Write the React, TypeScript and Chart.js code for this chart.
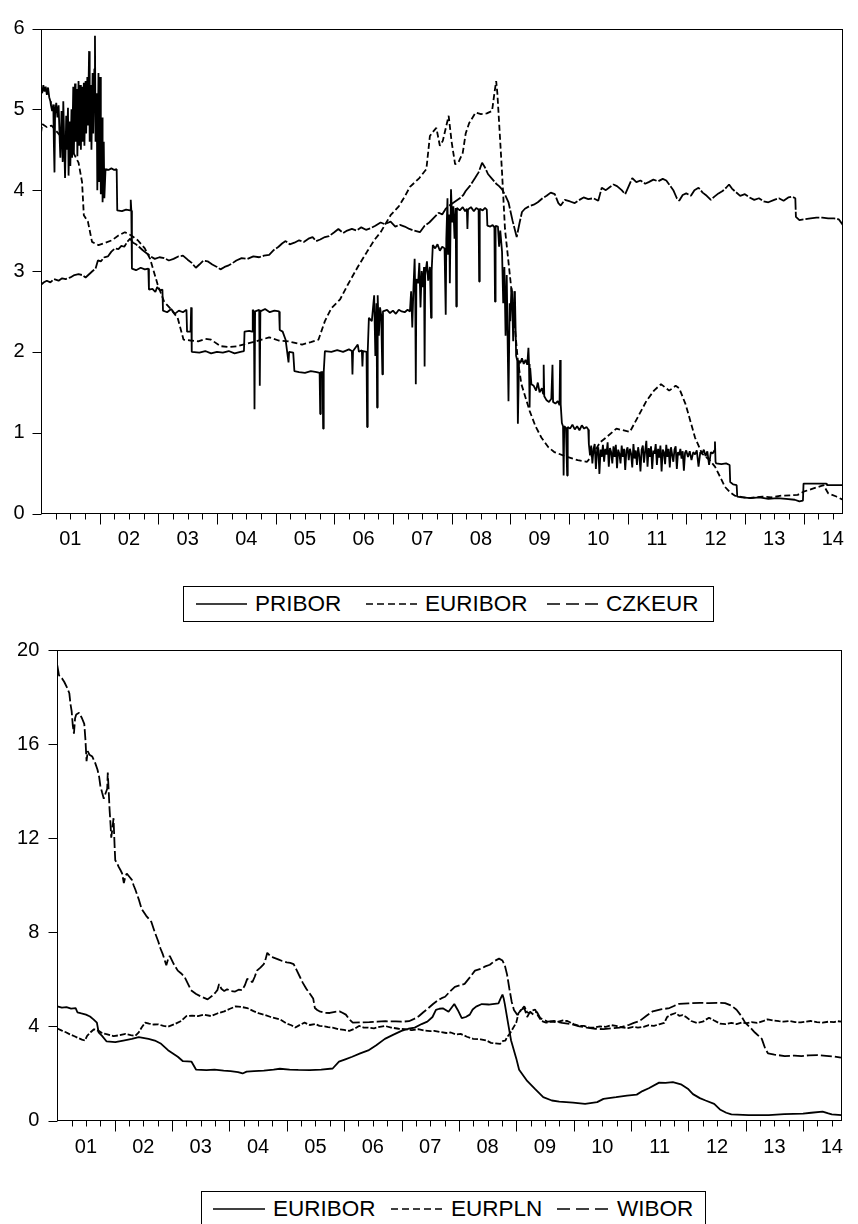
import React, { useEffect, useRef } from "react";
import { Chart, registerables } from "chart.js";

Chart.register(...registerables);

type Pt = [number, number];

// ---------- axis definitions ----------
const YEAR_LABELS = ["01", "02", "03", "04", "05", "06", "07", "08", "09", "10", "11", "12", "13", "14"];
const FIRST_YEAR = 2001;
const X_MIN = 2001;
const X_MAX = 2014.67;
const QUARTERS_PER_YEAR = 4;
const TOP_Y_MAX = 6;
const TOP_Y_STEP = 1;
const BOTTOM_Y_MAX = 20;
const BOTTOM_Y_STEP = 4;

// ---------- top panel: PRIBOR / EURIBOR / CZKEUR ----------
const PRIBOR: Pt[] = [
  [2001.00,5.26],[2001.02,5.20],[2001.04,5.30],[2001.06,5.22],[2001.08,5.28],[2001.10,5.18],[2001.12,5.27],[2001.14,5.15],
  [2001.16,5.10],[2001.17,5.05],[2001.19,4.98],[2001.21,5.06],[2001.22,4.55],[2001.23,4.22],[2001.24,4.95],[2001.26,5.08],
  [2001.28,4.90],[2001.30,5.05],[2001.32,4.60],[2001.33,4.40],[2001.35,4.98],[2001.37,4.35],[2001.38,5.10],[2001.40,4.45],
  [2001.41,4.15],[2001.43,4.92],[2001.44,4.50],[2001.46,5.02],[2001.47,4.18],[2001.49,4.85],[2001.50,4.30],[2001.52,5.00],
  [2001.53,4.40],[2001.55,5.28],[2001.56,4.45],[2001.58,5.32],[2001.59,4.60],[2001.61,5.25],[2001.62,4.42],[2001.64,5.35],
  [2001.65,4.55],[2001.67,5.30],[2001.68,4.50],[2001.70,5.28],[2001.71,4.60],[2001.73,5.33],[2001.74,4.55],[2001.76,5.35],
  [2001.77,4.70],[2001.79,5.40],[2001.80,4.80],[2001.82,5.72],[2001.83,4.60],[2001.85,5.30],[2001.86,4.50],[2001.88,5.45],
  [2001.89,4.70],[2001.91,5.50],[2001.92,5.91],[2001.93,4.60],[2001.95,5.20],[2001.96,4.00],[2001.98,5.45],[2001.99,4.10],
  [2002.01,5.40],[2002.02,3.95],[2002.04,4.90],[2002.05,3.85],[2002.07,4.60],[2002.08,3.90],[2002.10,4.26],
  [2002.15,4.25],[2002.20,4.27],[2002.25,4.25],[2002.29,4.26],[2002.30,3.75],[2002.38,3.74],[2002.45,3.76],[2002.52,3.75],
  [2002.53,3.88],[2002.54,3.75],[2002.55,3.03],[2002.62,3.01],[2002.70,3.04],[2002.77,3.02],[2002.83,3.03],[2002.84,2.77],
  [2002.90,2.78],[2002.95,2.74],[2002.98,2.80],[2003.03,2.76],[2003.07,2.77],[2003.08,2.51],[2003.15,2.49],[2003.22,2.53],
  [2003.28,2.47],[2003.35,2.51],[2003.42,2.49],[2003.48,2.52],[2003.49,2.25],[2003.55,2.25],[2003.56,2.55],[2003.57,2.00],
  [2003.70,1.99],[2003.80,2.01],[2003.90,1.98],[2004.00,2.00],[2004.10,1.99],[2004.20,2.01],[2004.30,1.98],[2004.40,2.00],
  [2004.46,2.01],[2004.47,2.25],[2004.55,2.26],[2004.60,2.25],[2004.61,2.52],[2004.63,2.50],[2004.64,1.29],[2004.65,2.50],
  [2004.72,2.52],[2004.73,1.58],[2004.74,2.50],[2004.82,2.53],[2004.90,2.49],[2004.98,2.51],[2005.06,2.50],[2005.07,2.27],
  [2005.12,2.25],[2005.17,2.15],[2005.22,1.87],[2005.23,2.00],[2005.30,1.99],[2005.32,1.76],[2005.40,1.75],[2005.50,1.74],
  [2005.60,1.76],[2005.70,1.75],[2005.75,1.74],[2005.76,1.23],[2005.77,1.75],[2005.80,1.75],[2005.81,1.05],[2005.82,1.75],
  [2005.84,2.01],[2005.95,2.00],[2006.05,2.02],[2006.15,2.00],[2006.25,2.03],[2006.30,2.01],[2006.31,1.72],[2006.32,2.01],
  [2006.40,2.09],[2006.42,2.00],[2006.47,2.02],[2006.48,1.82],[2006.49,2.01],[2006.55,2.00],[2006.56,1.07],[2006.57,2.00],
  [2006.59,2.42],[2006.64,2.38],[2006.68,2.70],[2006.70,1.95],[2006.72,2.60],[2006.73,1.31],[2006.74,2.70],[2006.76,2.20],
  [2006.78,2.55],[2006.80,2.45],[2006.82,1.72],[2006.83,2.50],[2006.90,2.52],[2006.95,2.48],[2007.00,2.51],[2007.05,2.47],
  [2007.10,2.52],[2007.15,2.50],[2007.20,2.49],[2007.25,2.52],[2007.29,2.50],[2007.31,2.75],[2007.33,2.30],[2007.35,2.80],
  [2007.37,3.15],[2007.38,2.70],[2007.39,1.60],[2007.40,2.90],[2007.43,2.85],[2007.45,3.10],[2007.47,2.55],[2007.49,3.00],
  [2007.51,2.80],[2007.53,3.05],[2007.54,1.82],[2007.55,2.95],[2007.58,3.12],[2007.60,2.88],[2007.63,3.05],[2007.65,2.42],
  [2007.66,3.00],[2007.68,3.32],[2007.72,3.28],[2007.76,3.33],[2007.80,3.25],[2007.84,3.30],[2007.88,3.28],[2007.90,2.46],
  [2007.91,3.40],[2007.93,3.90],[2007.94,3.20],[2007.96,3.70],[2007.97,2.85],[2007.99,4.01],[2008.01,3.60],[2008.03,3.80],
  [2008.05,3.40],[2008.07,3.78],[2008.08,2.56],[2008.09,3.78],[2008.14,3.75],[2008.19,3.79],[2008.23,3.74],[2008.26,3.77],
  [2008.27,3.52],[2008.28,3.76],[2008.33,3.79],[2008.38,3.74],[2008.42,3.78],[2008.46,3.76],[2008.47,2.87],[2008.48,3.77],
  [2008.53,3.75],[2008.57,3.78],[2008.60,3.76],[2008.61,3.56],[2008.66,3.55],[2008.70,3.57],[2008.73,3.54],[2008.74,2.62],
  [2008.75,3.56],[2008.79,3.55],[2008.81,3.30],[2008.83,3.50],[2008.86,3.24],[2008.88,2.60],[2008.90,3.05],[2008.92,2.20],
  [2008.94,2.95],[2008.97,1.39],[2008.99,2.60],[2009.00,2.38],[2009.02,2.79],[2009.03,2.75],[2009.05,2.13],[2009.07,2.75],
  [2009.08,2.70],[2009.10,1.95],[2009.12,1.89],[2009.13,1.11],[2009.15,1.89],[2009.17,1.86],[2009.20,1.92],[2009.23,1.85],
  [2009.26,1.90],[2009.29,1.84],[2009.31,2.05],[2009.32,1.85],[2009.33,1.31],[2009.34,1.80],[2009.36,1.60],[2009.40,1.58],
  [2009.44,1.52],[2009.47,1.62],[2009.50,1.50],[2009.54,1.55],[2009.56,1.48],[2009.57,1.84],[2009.58,1.45],[2009.62,1.40],
  [2009.66,1.38],[2009.70,1.42],[2009.72,1.84],[2009.73,1.38],[2009.77,1.36],[2009.81,1.39],[2009.84,1.34],[2009.85,1.90],
  [2009.86,1.35],[2009.88,1.12],[2009.90,1.08],[2009.91,0.47],[2009.92,1.08],[2009.95,1.06],[2009.97,0.47],[2009.98,1.07],
  [2010.02,1.05],[2010.06,1.10],[2010.10,1.04],[2010.14,1.08],[2010.18,1.03],[2010.22,1.09],[2010.26,1.05],[2010.30,1.07],
  [2010.33,1.04],[2010.34,0.86],[2010.36,0.72],[2010.38,0.84],[2010.40,0.62],[2010.42,0.80],[2010.44,0.86],[2010.46,0.55],
  [2010.48,0.78],[2010.50,0.82],[2010.52,0.49],[2010.54,0.79],[2010.56,0.70],[2010.58,0.85],[2010.60,0.64],[2010.62,0.80],
  [2010.64,0.73],[2010.66,0.88],[2010.68,0.58],[2010.70,0.81],[2010.72,0.76],[2010.74,0.62],[2010.76,0.83],[2010.78,0.70],
  [2010.80,0.85],[2010.82,0.56],[2010.84,0.79],[2010.86,0.74],[2010.88,0.62],[2010.90,0.84],[2010.92,0.70],[2010.94,0.80],
  [2010.96,0.54],[2010.98,0.78],[2011.00,0.82],[2011.02,0.66],[2011.04,0.80],[2011.06,0.74],[2011.08,0.57],[2011.10,0.86],
  [2011.12,0.68],[2011.14,0.78],[2011.16,0.60],[2011.18,0.82],[2011.20,0.72],[2011.22,0.52],[2011.24,0.79],[2011.26,0.84],
  [2011.28,0.63],[2011.30,0.77],[2011.32,0.90],[2011.34,0.58],[2011.36,0.81],[2011.38,0.70],[2011.40,0.83],[2011.42,0.55],
  [2011.44,0.78],[2011.46,0.74],[2011.48,0.86],[2011.50,0.60],[2011.52,0.80],[2011.54,0.69],[2011.56,0.84],[2011.58,0.52],
  [2011.60,0.79],[2011.62,0.76],[2011.64,0.61],[2011.66,0.85],[2011.68,0.70],[2011.70,0.80],[2011.72,0.57],[2011.74,0.82],
  [2011.76,0.73],[2011.78,0.64],[2011.80,0.79],[2011.82,0.83],[2011.84,0.55],[2011.86,0.76],[2011.88,0.72],[2011.90,0.80],
  [2011.92,0.68],[2011.94,0.77],[2011.96,0.53],[2011.98,0.75],[2012.00,0.78],[2012.03,0.70],[2012.06,0.77],[2012.09,0.66],
  [2012.12,0.76],[2012.15,0.73],[2012.18,0.78],[2012.21,0.58],[2012.24,0.76],[2012.27,0.74],[2012.30,0.79],[2012.33,0.71],
  [2012.36,0.77],[2012.39,0.60],[2012.42,0.76],[2012.45,0.74],[2012.48,0.78],[2012.49,0.89],[2012.50,0.64],[2012.51,0.62],
  [2012.60,0.61],[2012.68,0.62],[2012.74,0.60],[2012.75,0.39],[2012.80,0.36],[2012.86,0.35],[2012.87,0.21],[2012.95,0.20],
  [2013.10,0.19],[2013.25,0.20],[2013.40,0.18],[2013.55,0.19],[2013.70,0.18],[2013.85,0.17],[2013.93,0.15],[2013.99,0.16],
  [2014.00,0.37],[2014.20,0.37],[2014.39,0.37],[2014.40,0.35],[2014.67,0.35],
];

const EURIBOR_TOP: Pt[] = [
  [2001.00,4.71],[2001.02,4.82],[2001.10,4.78],[2001.18,4.80],[2001.25,4.74],[2001.32,4.68],[2001.40,4.60],[2001.48,4.55],
  [2001.56,4.45],[2001.64,4.34],[2001.70,4.10],[2001.73,3.69],[2001.80,3.61],[2001.87,3.36],[2001.98,3.32],[2002.10,3.35],
  [2002.21,3.38],[2002.32,3.44],[2002.43,3.48],[2002.54,3.44],[2002.65,3.38],[2002.77,3.28],[2002.86,3.15],[2002.99,2.83],
  [2003.10,2.62],[2003.20,2.54],[2003.33,2.42],[2003.43,2.15],[2003.55,2.14],[2003.68,2.13],[2003.80,2.16],[2003.90,2.15],
  [2004.06,2.07],[2004.20,2.06],[2004.35,2.07],[2004.50,2.10],[2004.67,2.13],[2004.89,2.18],[2005.05,2.14],[2005.22,2.13],
  [2005.45,2.09],[2005.60,2.12],[2005.73,2.15],[2005.84,2.38],[2005.95,2.54],[2006.10,2.65],[2006.23,2.83],[2006.40,3.05],
  [2006.56,3.24],[2006.68,3.38],[2006.79,3.48],[2006.96,3.69],[2007.10,3.80],[2007.20,3.92],[2007.29,4.04],[2007.45,4.15],
  [2007.57,4.26],[2007.63,4.67],[2007.68,4.72],[2007.74,4.77],[2007.80,4.55],[2007.85,4.61],[2007.95,4.92],[2008.00,4.60],
  [2008.06,4.32],[2008.12,4.35],[2008.19,4.46],[2008.24,4.70],[2008.30,4.83],[2008.41,4.96],[2008.50,4.94],[2008.60,4.95],
  [2008.69,4.98],[2008.73,5.20],[2008.76,5.35],[2008.78,5.20],[2008.80,4.96],[2008.86,4.22],[2008.91,3.52],[2009.03,2.70],
  [2009.13,1.89],[2009.19,1.60],[2009.33,1.27],[2009.43,1.08],[2009.53,0.94],[2009.65,0.82],[2009.75,0.76],[2009.97,0.70],
  [2010.15,0.66],[2010.31,0.64],[2010.42,0.74],[2010.53,0.88],[2010.65,0.95],[2010.81,1.05],[2010.92,1.03],[2011.04,1.01],
  [2011.18,1.20],[2011.32,1.39],[2011.45,1.52],[2011.57,1.60],[2011.71,1.52],[2011.82,1.58],[2011.88,1.55],[2011.99,1.35],
  [2012.08,1.12],[2012.15,0.94],[2012.27,0.74],[2012.40,0.66],[2012.49,0.58],[2012.58,0.45],[2012.66,0.33],[2012.75,0.26],
  [2012.83,0.22],[2013.06,0.19],[2013.30,0.21],[2013.45,0.20],[2013.62,0.22],[2013.90,0.23],[2014.00,0.27],[2014.17,0.31],
  [2014.34,0.35],[2014.42,0.25],[2014.56,0.21],[2014.67,0.17],
];

const CZKEUR: Pt[] = [
  [2001.00,2.83],[2001.05,2.86],[2001.10,2.88],[2001.16,2.86],[2001.22,2.90],[2001.30,2.88],[2001.36,2.91],[2001.42,2.90],
  [2001.50,2.92],[2001.57,2.95],[2001.64,2.96],[2001.70,2.95],[2001.76,2.92],[2001.82,2.96],[2001.88,3.00],[2001.93,3.03],
  [2001.97,3.13],[2002.02,3.12],[2002.08,3.17],[2002.14,3.18],[2002.20,3.24],[2002.26,3.28],[2002.32,3.27],[2002.37,3.31],
  [2002.42,3.30],[2002.47,3.36],[2002.52,3.40],[2002.57,3.35],[2002.62,3.33],[2002.67,3.30],[2002.73,3.26],[2002.80,3.22],
  [2002.87,3.18],[2002.94,3.15],[2003.02,3.17],[2003.10,3.16],[2003.18,3.13],[2003.26,3.15],[2003.34,3.18],[2003.42,3.19],
  [2003.50,3.14],[2003.57,3.10],[2003.64,3.04],[2003.70,3.08],[2003.77,3.13],[2003.84,3.12],[2003.92,3.08],[2004.00,3.05],
  [2004.06,3.02],[2004.13,3.05],[2004.20,3.07],[2004.27,3.10],[2004.33,3.13],[2004.42,3.16],[2004.52,3.15],[2004.62,3.18],
  [2004.72,3.17],[2004.80,3.19],[2004.89,3.20],[2004.97,3.26],[2005.05,3.30],[2005.11,3.34],[2005.17,3.37],[2005.24,3.33],
  [2005.32,3.35],[2005.40,3.38],[2005.48,3.36],[2005.56,3.40],[2005.63,3.42],[2005.69,3.37],[2005.76,3.39],[2005.84,3.42],
  [2005.91,3.43],[2006.00,3.48],[2006.07,3.52],[2006.15,3.47],[2006.22,3.50],[2006.30,3.52],[2006.38,3.50],[2006.46,3.54],
  [2006.54,3.51],[2006.62,3.53],[2006.70,3.56],[2006.79,3.60],[2006.86,3.58],[2006.96,3.61],[2007.04,3.55],[2007.12,3.57],
  [2007.20,3.55],[2007.28,3.52],[2007.36,3.50],[2007.46,3.48],[2007.54,3.56],[2007.62,3.60],[2007.70,3.66],[2007.78,3.72],
  [2007.84,3.70],[2007.90,3.77],[2007.98,3.82],[2008.06,3.86],[2008.14,3.90],[2008.20,3.94],[2008.24,3.99],[2008.32,4.06],
  [2008.40,4.15],[2008.46,4.22],[2008.52,4.34],[2008.57,4.28],[2008.62,4.20],[2008.69,4.14],[2008.76,4.08],[2008.81,4.05],
  [2008.86,4.01],[2008.92,3.93],[2008.97,3.85],[2009.04,3.62],[2009.11,3.42],[2009.16,3.60],[2009.20,3.73],[2009.25,3.77],
  [2009.32,3.80],[2009.40,3.82],[2009.47,3.85],[2009.55,3.90],[2009.62,3.93],[2009.69,3.97],[2009.76,3.95],[2009.82,3.84],
  [2009.86,3.81],[2009.93,3.88],[2010.02,3.86],[2010.10,3.84],[2010.18,3.88],[2010.25,3.91],[2010.33,3.89],[2010.42,3.90],
  [2010.50,3.87],[2010.56,4.03],[2010.63,4.00],[2010.70,4.04],[2010.76,4.07],[2010.82,4.05],[2010.90,4.00],[2010.96,3.95],
  [2011.02,4.05],[2011.08,4.15],[2011.15,4.10],[2011.22,4.12],[2011.30,4.08],[2011.36,4.10],[2011.44,4.13],[2011.52,4.11],
  [2011.60,4.14],[2011.66,4.12],[2011.72,4.06],[2011.78,4.00],[2011.84,3.90],[2011.88,3.87],[2011.94,3.94],[2012.00,3.96],
  [2012.08,3.93],[2012.14,4.00],[2012.21,4.03],[2012.28,3.97],[2012.35,3.93],[2012.42,3.88],[2012.48,3.92],[2012.55,3.96],
  [2012.62,3.99],[2012.68,4.03],[2012.73,4.07],[2012.78,4.02],[2012.84,3.98],[2012.92,3.93],[2013.00,3.95],[2013.08,3.91],
  [2013.16,3.88],[2013.24,3.90],[2013.32,3.86],[2013.40,3.85],[2013.50,3.88],[2013.58,3.90],[2013.66,3.87],[2013.74,3.91],
  [2013.80,3.92],[2013.86,3.90],[2013.87,3.67],[2013.93,3.63],[2014.02,3.64],[2014.12,3.65],[2014.22,3.66],[2014.32,3.66],
  [2014.42,3.65],[2014.52,3.65],[2014.60,3.64],[2014.67,3.57],
];

// ---------- bottom panel: EURIBOR / EURPLN / WIBOR ----------
const EURIBOR_BOTTOM: Pt[] = [
  [2001.00,4.85],[2001.08,4.80],[2001.16,4.82],[2001.24,4.76],[2001.32,4.78],[2001.35,4.60],[2001.42,4.55],[2001.50,4.50],
  [2001.57,4.42],[2001.63,4.30],[2001.69,4.16],[2001.72,3.75],[2001.78,3.60],[2001.86,3.36],[2002.01,3.33],[2002.15,3.40],
  [2002.30,3.47],[2002.42,3.54],[2002.59,3.47],[2002.70,3.40],[2002.81,3.26],[2002.93,2.99],[2003.10,2.71],[2003.19,2.52],
  [2003.34,2.50],[2003.42,2.16],[2003.60,2.14],[2003.74,2.16],[2003.90,2.12],[2004.02,2.10],[2004.15,2.06],[2004.23,2.00],
  [2004.30,2.08],[2004.43,2.10],[2004.60,2.12],[2004.77,2.16],[2004.88,2.20],[2005.05,2.16],[2005.20,2.15],[2005.40,2.14],
  [2005.60,2.16],[2005.80,2.21],[2005.91,2.50],[2006.02,2.60],[2006.14,2.71],[2006.28,2.85],[2006.42,2.98],[2006.56,3.20],
  [2006.71,3.47],[2006.86,3.65],[2007.00,3.81],[2007.12,3.90],[2007.23,3.95],[2007.35,4.10],[2007.45,4.20],[2007.54,4.40],
  [2007.60,4.70],[2007.66,4.75],[2007.72,4.77],[2007.82,4.62],[2007.92,4.95],[2007.98,4.70],[2008.05,4.35],[2008.12,4.40],
  [2008.19,4.50],[2008.24,4.72],[2008.30,4.84],[2008.40,4.95],[2008.52,4.93],[2008.62,4.96],[2008.69,4.98],[2008.73,5.20],
  [2008.76,5.35],[2008.78,5.20],[2008.80,4.96],[2008.86,4.10],[2008.91,3.40],[2009.00,2.64],[2009.05,2.16],[2009.19,1.68],
  [2009.33,1.33],[2009.47,0.99],[2009.62,0.85],[2009.75,0.80],[2009.99,0.76],[2010.20,0.71],[2010.41,0.78],[2010.52,0.92],
  [2010.74,0.99],[2010.93,1.06],[2011.10,1.10],[2011.20,1.25],[2011.31,1.37],[2011.49,1.61],[2011.60,1.60],[2011.73,1.63],
  [2011.87,1.54],[2011.99,1.35],[2012.08,1.12],[2012.20,0.95],[2012.30,0.85],[2012.45,0.71],[2012.55,0.47],[2012.66,0.33],
  [2012.75,0.26],[2013.05,0.23],[2013.40,0.23],[2013.67,0.27],[2014.00,0.29],[2014.14,0.33],[2014.34,0.38],[2014.44,0.30],
  [2014.50,0.26],[2014.67,0.23],
];

const EURPLN: Pt[] = [
  [2001.00,3.91],[2001.08,3.82],[2001.15,3.75],[2001.22,3.66],[2001.30,3.58],[2001.37,3.50],[2001.43,3.44],[2001.48,3.40],
  [2001.52,3.60],[2001.58,3.75],[2001.64,3.88],[2001.72,3.81],[2001.78,3.72],[2001.84,3.68],[2001.92,3.63],[2001.98,3.59],
  [2002.08,3.62],[2002.19,3.68],[2002.28,3.63],[2002.36,3.60],[2002.42,3.75],[2002.47,3.95],[2002.53,4.16],[2002.60,4.12],
  [2002.68,4.08],[2002.76,4.09],[2002.85,4.02],[2002.93,3.99],[2003.05,4.10],[2003.16,4.23],[2003.25,4.44],[2003.35,4.46],
  [2003.45,4.44],[2003.56,4.50],[2003.68,4.44],[2003.80,4.56],[2003.91,4.64],[2004.01,4.75],[2004.11,4.85],[2004.20,4.83],
  [2004.31,4.78],[2004.42,4.65],[2004.52,4.55],[2004.60,4.50],[2004.72,4.40],[2004.88,4.30],[2005.00,4.12],[2005.08,4.05],
  [2005.15,3.95],[2005.24,4.08],[2005.31,4.16],[2005.40,4.06],[2005.50,4.10],[2005.57,4.02],[2005.66,4.00],[2005.72,3.97],
  [2005.80,3.95],[2005.90,3.88],[2006.00,3.85],[2006.09,3.81],[2006.18,3.90],[2006.26,4.02],[2006.34,3.95],[2006.42,3.95],
  [2006.52,3.92],[2006.62,3.98],[2006.71,4.02],[2006.82,3.95],[2006.95,3.90],[2007.06,3.88],[2007.18,3.84],[2007.29,3.88],
  [2007.40,3.82],[2007.50,3.80],[2007.57,3.81],[2007.68,3.76],[2007.78,3.72],[2007.86,3.74],[2007.95,3.66],[2008.03,3.68],
  [2008.14,3.56],[2008.25,3.47],[2008.38,3.45],[2008.48,3.40],[2008.56,3.30],[2008.64,3.28],[2008.72,3.26],[2008.77,3.38],
  [2008.81,3.40],[2008.84,3.54],[2008.90,3.74],[2009.00,4.16],[2009.04,4.57],[2009.09,4.70],[2009.14,4.85],[2009.19,4.60],
  [2009.23,4.57],[2009.28,4.68],[2009.33,4.71],[2009.38,4.45],[2009.42,4.30],[2009.47,4.20],[2009.52,4.16],[2009.60,4.20],
  [2009.70,4.18],[2009.80,4.25],[2009.89,4.23],[2010.00,4.10],[2010.10,4.02],[2010.18,4.02],[2010.27,3.96],[2010.36,3.95],
  [2010.46,4.00],[2010.56,3.98],[2010.66,4.05],[2010.74,4.02],[2010.84,3.96],[2010.95,3.93],[2011.04,3.98],[2011.12,3.95],
  [2011.22,3.98],[2011.31,4.05],[2011.40,4.02],[2011.49,4.09],[2011.58,4.15],[2011.63,4.40],[2011.70,4.50],[2011.78,4.57],
  [2011.84,4.45],[2011.90,4.48],[2011.96,4.40],[2012.05,4.23],[2012.15,4.15],[2012.25,4.20],[2012.36,4.37],[2012.45,4.25],
  [2012.55,4.12],[2012.65,4.10],[2012.75,4.15],[2012.84,4.10],[2012.93,4.16],[2013.02,4.14],[2013.10,4.18],[2013.20,4.15],
  [2013.30,4.22],[2013.38,4.30],[2013.48,4.25],[2013.58,4.22],[2013.66,4.20],[2013.76,4.23],[2013.86,4.18],[2013.96,4.17],
  [2014.04,4.20],[2014.13,4.23],[2014.24,4.18],[2014.34,4.16],[2014.44,4.20],[2014.54,4.18],[2014.60,4.22],[2014.67,4.20],
];

const WIBOR: Pt[] = [
  [2001.00,19.34],[2001.03,18.92],[2001.08,18.80],[2001.12,18.65],[2001.17,18.40],[2001.21,18.16],[2001.23,17.70],
  [2001.25,17.40],[2001.27,16.80],[2001.29,16.44],[2001.31,17.10],[2001.33,17.26],[2001.38,17.33],[2001.43,17.10],
  [2001.47,16.86],[2001.49,16.20],[2001.51,15.27],[2001.53,15.70],[2001.56,15.55],[2001.61,15.47],[2001.66,15.20],
  [2001.70,14.92],[2001.73,14.60],[2001.75,14.23],[2001.78,13.95],[2001.81,13.68],[2001.84,13.90],[2001.87,14.10],
  [2001.88,14.79],[2001.90,13.80],[2001.91,13.27],[2001.93,12.50],[2001.94,12.02],[2001.96,12.40],[2001.98,12.85],
  [2002.00,11.60],[2002.01,11.06],[2002.04,10.95],[2002.07,10.78],[2002.10,10.65],[2002.13,10.50],[2002.16,10.09],
  [2002.18,10.30],[2002.21,10.50],[2002.26,10.35],[2002.30,10.23],[2002.33,10.00],[2002.36,9.82],[2002.42,9.40],
  [2002.47,8.99],[2002.55,8.70],[2002.64,8.44],[2002.70,8.00],[2002.76,7.61],[2002.80,7.30],[2002.84,7.06],[2002.90,6.60],
  [2002.93,6.85],[2002.96,7.00],[2003.03,6.65],[2003.10,6.37],[2003.16,6.25],[2003.22,6.10],[2003.28,5.80],[2003.33,5.54],
  [2003.42,5.38],[2003.51,5.26],[2003.57,5.20],[2003.62,5.15],[2003.70,5.30],[2003.76,5.45],[2003.79,5.54],[2003.82,5.80],
  [2003.86,5.60],[2003.91,5.50],[2003.96,5.58],[2004.02,5.50],[2004.10,5.48],[2004.16,5.56],[2004.22,5.54],[2004.27,5.75],
  [2004.31,6.02],[2004.36,5.95],[2004.40,5.88],[2004.44,6.10],[2004.48,6.37],[2004.54,6.50],[2004.60,6.65],[2004.63,6.85],
  [2004.66,7.13],[2004.71,7.00],[2004.77,6.92],[2004.85,6.85],[2004.92,6.78],[2005.00,6.72],[2005.06,6.70],[2005.12,6.65],
  [2005.17,6.40],[2005.23,6.10],[2005.28,5.85],[2005.34,5.60],[2005.40,5.40],[2005.46,5.19],[2005.49,4.78],[2005.53,4.70],
  [2005.57,4.64],[2005.66,4.58],[2005.75,4.57],[2005.84,4.62],[2005.92,4.64],[2005.97,4.58],[2006.03,4.50],[2006.09,4.30],
  [2006.15,4.16],[2006.30,4.17],[2006.44,4.18],[2006.58,4.20],[2006.72,4.22],[2006.90,4.21],[2007.00,4.20],[2007.13,4.22],
  [2007.22,4.32],[2007.30,4.43],[2007.38,4.60],[2007.47,4.78],[2007.55,4.95],[2007.64,5.12],[2007.70,5.20],[2007.76,5.26],
  [2007.85,5.50],[2007.93,5.68],[2008.02,5.75],[2008.10,5.81],[2008.18,6.05],[2008.28,6.37],[2008.38,6.45],[2008.46,6.55],
  [2008.54,6.62],[2008.62,6.78],[2008.70,6.88],[2008.76,6.80],[2008.80,6.60],[2008.84,6.20],[2008.88,5.60],[2008.92,5.05],
  [2008.96,4.70],[2009.02,4.48],[2009.08,4.70],[2009.14,4.78],[2009.19,4.40],[2009.24,4.62],[2009.30,4.50],[2009.36,4.62],
  [2009.42,4.35],[2009.48,4.28],[2009.55,4.20],[2009.66,4.23],[2009.80,4.15],[2009.95,4.10],[2010.10,4.00],[2010.23,3.95],
  [2010.38,3.90],[2010.52,3.88],[2010.66,3.92],[2010.80,3.95],[2010.95,4.05],[2011.05,4.15],[2011.15,4.23],[2011.27,4.45],
  [2011.38,4.64],[2011.52,4.72],[2011.67,4.78],[2011.76,4.88],[2011.84,4.96],[2012.00,4.98],[2012.20,5.00],[2012.36,4.99],
  [2012.50,5.00],[2012.64,4.99],[2012.75,4.88],[2012.84,4.71],[2012.92,4.45],[2012.99,4.16],[2013.08,3.95],[2013.16,3.74],
  [2013.28,3.47],[2013.34,3.05],[2013.39,2.85],[2013.50,2.80],[2013.68,2.74],[2013.85,2.76],[2013.97,2.74],[2014.10,2.77],
  [2014.25,2.78],[2014.40,2.75],[2014.55,2.72],[2014.66,2.67],
];

// ---------- rendering ----------
const FONT = "'Liberation Sans', Arial, Helvetica, sans-serif";
const PAGE_W = 858;

type Series = { name: string; data: Pt[]; dash: number[] };

const axesPlugin = {
  id: "eviewsAxes",
  afterDraw(chart: any) {
    const { ctx, chartArea, scales } = chart;
    const L = Math.round(chartArea.left) + 0.5;
    const T = Math.round(chartArea.top) + 0.5;
    const R = Math.round(chartArea.right) - 0.5;
    const B = Math.floor(chartArea.bottom) + 0.5;
    ctx.save();
    ctx.strokeStyle = "#000";
    ctx.lineWidth = 1;
    ctx.setLineDash([]);
    ctx.strokeRect(L, T, R - L, B - T);
    ctx.beginPath();
    const ys = scales.y;
    ys.ticks.forEach((t: any) => {
      const py = Math.round(ys.getPixelForValue(t.value)) + 0.5;
      ctx.moveTo(L - 9, py);
      ctx.lineTo(L, py);
    });
    const xs = scales.x;
    const nq = Math.floor((X_MAX - X_MIN) * QUARTERS_PER_YEAR);
    for (let q = 1; q <= nq; q++) {
      const v = X_MIN + q / QUARTERS_PER_YEAR;
      const px = Math.round(xs.getPixelForValue(v)) + 0.5;
      const len = q % QUARTERS_PER_YEAR === 0 ? 11 : 6;
      ctx.moveTo(px, B);
      ctx.lineTo(px, B + len);
    }
    ctx.stroke();
    ctx.restore();
  },
};

function ChartPanel(props: {
  top: number;
  height: number;
  plotLeft: number;
  plotTop: number;
  plotRight: number;
  plotBottom: number;
  yMax: number;
  yStep: number;
  yLabelPad: number;
  xLabelPad: number;
  series: Series[];
}) {
  const ref = useRef<HTMLCanvasElement | null>(null);
  useEffect(() => {
    if (!ref.current) return;
    const p = props;
    const chart = new Chart(ref.current, {
      type: "line",
      data: {
        datasets: p.series.map((s) => ({
          label: s.name,
          data: s.data.map(([x, y]) => ({ x, y })),
          borderColor: "#000",
          backgroundColor: "#000",
          borderWidth: 1.8,
          borderDash: s.dash,
          borderJoinStyle: "bevel",
          borderCapStyle: "butt",
          pointRadius: 0,
          pointHoverRadius: 0,
          tension: 0,
          fill: false,
        })),
      },
      options: {
        responsive: false,
        animation: false,
        devicePixelRatio: 1,
        events: [],
        layout: {
          autoPadding: false,
          padding: { left: 0, top: p.plotTop, right: PAGE_W - p.plotRight, bottom: 0 },
        },
        plugins: { legend: { display: false }, tooltip: { enabled: false } },
        scales: {
          x: {
            type: "linear",
            min: X_MIN,
            max: X_MAX,
            grid: { display: false, drawTicks: false },
            border: { display: false },
            afterBuildTicks: (s: any) => {
              s.ticks = YEAR_LABELS.map((_, i) => ({ value: FIRST_YEAR + i + 0.5 }));
            },
            afterFit: (s: any) => {
              s.height = p.height - p.plotBottom;
            },
            ticks: {
              autoSkip: false,
              maxRotation: 0,
              minRotation: 0,
              padding: p.xLabelPad,
              color: "#000",
              font: { family: FONT, size: 20 },
              callback: (v: any) => YEAR_LABELS[Math.floor(Number(v)) - FIRST_YEAR],
            },
          },
          y: {
            type: "linear",
            min: 0,
            max: p.yMax,
            grid: { display: false, drawTicks: false },
            border: { display: false },
            afterFit: (s: any) => {
              s.width = p.plotLeft;
            },
            ticks: {
              stepSize: p.yStep,
              autoSkip: false,
              padding: p.yLabelPad,
              color: "#000",
              font: { family: FONT, size: 20 },
            },
          },
        },
      } as any,
      plugins: [axesPlugin],
    });
    return () => chart.destroy();
  }, []);
  return (
    <canvas
      ref={ref}
      width={PAGE_W}
      height={props.height}
      style={{ position: "absolute", left: 0, top: props.top, width: PAGE_W, height: props.height }}
    />
  );
}

type LegendItem = { name: string; dash: number[]; lineX: number; lineW: number; textX: number };

function Legend(props: { left: number; top: number; width: number; height: number; items: LegendItem[] }) {
  const { left, top, width, height, items } = props;
  return (
    <div
      style={{
        position: "absolute",
        left,
        top,
        width,
        height,
        border: "1px solid #000",
        boxSizing: "border-box",
        background: "#fff",
      }}
    >
      {items.map((it) => (
        <React.Fragment key={it.name}>
          <svg
            width={it.lineW}
            height={4}
            style={{ position: "absolute", left: it.lineX - left - 1, top: height / 2 - 3 }}
          >
            <line
              x1={0}
              y1={2}
              x2={it.lineW}
              y2={2}
              stroke="#000"
              strokeWidth={1.5}
              strokeDasharray={it.dash.length ? it.dash.join(" ") : undefined}
            />
          </svg>
          <div
            style={{
              position: "absolute",
              left: it.textX - left - 1,
              top: -1,
              height: height,
              lineHeight: height + "px",
              fontFamily: FONT,
              fontSize: 22.5,
              color: "#000",
              whiteSpace: "nowrap",
            }}
          >
            {it.name}
          </div>
        </React.Fragment>
      ))}
    </div>
  );
}

const SOLID: number[] = [];
const LEGEND_SHORT = [7, 4];
const LEGEND_LONG = [13, 6];

export default function App() {
  const topSeries: Series[] = [
    { name: "PRIBOR", data: PRIBOR, dash: SOLID },
    { name: "EURIBOR", data: EURIBOR_TOP, dash: [6, 3] },
    { name: "CZKEUR", data: CZKEUR, dash: [14, 2] },
  ];
  const bottomSeries: Series[] = [
    { name: "EURIBOR", data: EURIBOR_BOTTOM, dash: SOLID },
    { name: "EURPLN", data: EURPLN, dash: [6, 2] },
    { name: "WIBOR", data: WIBOR, dash: [11, 3] },
  ];
  return (
    <div
      style={{
        position: "absolute",
        left: 0,
        top: 0,
        width: PAGE_W,
        height: 1224,
        overflow: "hidden",
        background: "#fff",
      }}
    >
      <ChartPanel
        top={0}
        height={570}
        plotLeft={41}
        plotTop={25}
        plotRight={856.7}
        plotBottom={513.5}
        yMax={TOP_Y_MAX}
        yStep={TOP_Y_STEP}
        yLabelPad={16.5}
        xLabelPad={14}
        series={topSeries}
      />
      <Legend
        left={183}
        top={586}
        width={531}
        height={36}
        items={[
          { name: "PRIBOR", dash: SOLID, lineX: 196, lineW: 51, textX: 255 },
          { name: "EURIBOR", dash: LEGEND_SHORT, lineX: 366, lineW: 51, textX: 425 },
          { name: "CZKEUR", dash: LEGEND_LONG, lineX: 547, lineW: 51, textX: 606 },
        ]}
      />
      <ChartPanel
        top={620}
        height={560}
        plotLeft={57.3}
        plotTop={17.3}
        plotRight={850.7}
        plotBottom={500.5}
        yMax={BOTTOM_Y_MAX}
        yStep={BOTTOM_Y_STEP}
        yLabelPad={18}
        xLabelPad={15}
        series={bottomSeries}
      />
      <Legend
        left={201}
        top={1191}
        width={505}
        height={36}
        items={[
          { name: "EURIBOR", dash: SOLID, lineX: 213, lineW: 52, textX: 273 },
          { name: "EURPLN", dash: LEGEND_SHORT, lineX: 391, lineW: 52, textX: 451 },
          { name: "WIBOR", dash: LEGEND_LONG, lineX: 557, lineW: 51, textX: 617 },
        ]}
      />
    </div>
  );
}
